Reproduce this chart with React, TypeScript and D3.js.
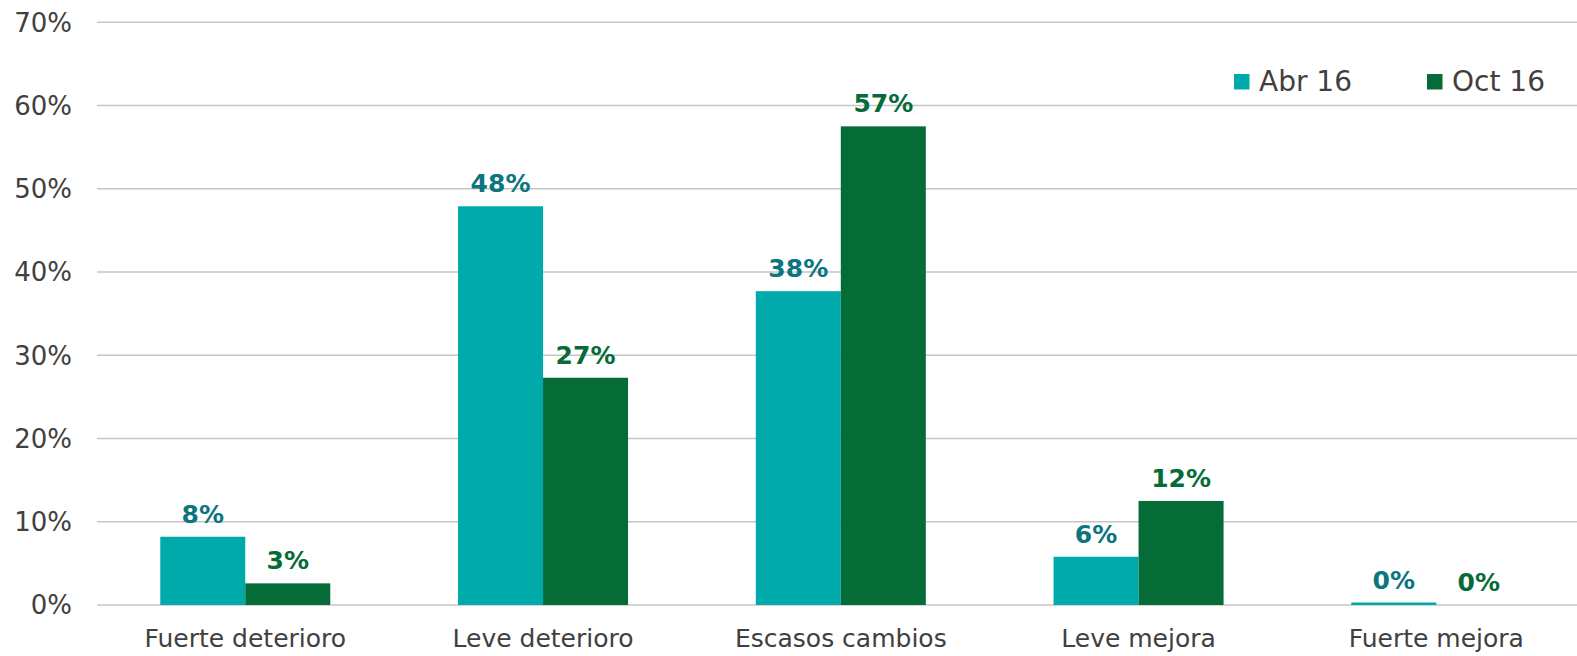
import React from "react";
import * as d3 from "d3";

const categories = ["Fuerte deterioro", "Leve deterioro", "Escasos cambios", "Leve mejora", "Fuerte mejora"];
const seriesNames = ["Abr 16", "Oct 16"];
const abr16 = [0.082, 0.479, 0.377, 0.058, 0.003];
const oct16 = [0.026, 0.273, 0.575, 0.125, 0.0];
const labelsAbr = ["8%", "48%", "38%", "6%", "0%"];
const labelsOct = ["3%", "27%", "57%", "12%", "0%"];
const yTicks = [0, 0.1, 0.2, 0.3, 0.4, 0.5, 0.6, 0.7];

const W = 1577;
const H = 656;
const barColors = ["#00AAAA", "#056B37"];
const labelColors = ["#0B7580", "#066B38"];
const textColor = "#404040";
const font = "'DejaVu Sans', Verdana, sans-serif";

export default function App() {
  const x0 = d3
    .scaleBand<string>()
    .domain(categories)
    .range([96.4, 1585.2])
    .paddingInner(0.429)
    .paddingOuter(0.2145);
  const x1 = d3.scaleBand<string>().domain(seriesNames).range([0, x0.bandwidth()]);
  const y = d3.scaleLinear().domain([0, 0.7]).range([605, 22.3]);
  const series = [abr16, oct16];
  const labels = [labelsAbr, labelsOct];
  const fmt = d3.format(".0%");

  return (
    <svg width={W} height={H} style={{ position: "absolute", left: 0, top: 0, background: "#fff" }} fontFamily={font}>
      {yTicks.map((t) => (
        <g key={t}>
          <line x1={97} x2={W} y1={y(t)} y2={y(t)} stroke="#C6C6C6" strokeWidth={1.5} />
          <text x={72} y={y(t)} dy="0.36em" textAnchor="end" fontSize={26} fill={textColor}>
            {fmt(t)}
          </text>
        </g>
      ))}
      {categories.map((c, i) => (
        <g key={c}>
          {seriesNames.map((s, j) => {
            const v = series[j][i];
            const bx = (x0(c) as number) + (x1(s) as number);
            const bw = x1.bandwidth();
            return (
              <g key={s}>
                {v > 0 && (
                  <rect x={bx} y={y(v)} width={bw} height={y(0) - y(v)} fill={barColors[j]} />
                )}
                <text
                  x={bx + bw / 2}
                  y={y(v) - 14}
                  textAnchor="middle"
                  fontSize={25}
                  fontWeight="bold"
                  fill={labelColors[j]}
                >
                  {labels[j][i]}
                </text>
              </g>
            );
          })}
          <text
            x={(x0(c) as number) + x0.bandwidth() / 2}
            y={647}
            textAnchor="middle"
            fontSize={25}
            fill={textColor}
          >
            {c}
          </text>
        </g>
      ))}
      {seriesNames.map((s, j) => {
        const lx = [1234, 1427][j];
        return (
          <g key={s}>
            <rect x={lx} y={74} width={15.5} height={15.5} fill={barColors[j]} />
            <text x={lx + 25} y={91} fontSize={28} fill={textColor}>
              {s}
            </text>
          </g>
        );
      })}
    </svg>
  );
}
